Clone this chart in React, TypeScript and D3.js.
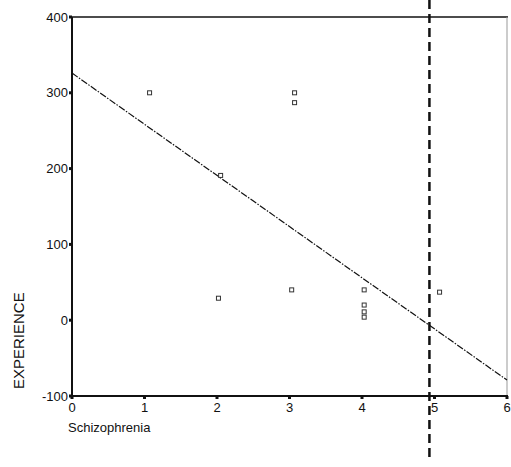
import { scaleLinear, line } from "d3";

const width = 511;
const height = 467;

// scatter points
const xValues = [1.07, 3.07, 3.07, 2.05, 2.02, 3.03, 4.03, 4.03, 4.03, 4.03, 5.07];
const yValues = [300, 300, 287, 191, 29, 40, 40, 20, 11, 4, 37];

const xTicks = [0, 1, 2, 3, 4, 5, 6];
const yTicks = [-100, 0, 100, 200, 300, 400];

// fitted line: intercept and slope
const fitX = [0, 6];
const fitIntercept = 326;
const fitSlope = -67.5;
const cutoffX = 4.93;

export default function App() {
  const xScale = scaleLinear().domain([0, 6]).range([72, 507]);
  const yScale = scaleLinear().domain([-100, 400]).range([396, 17]);

  const fitLine = line<number>()
    .x((d) => xScale(d))
    .y((d) => yScale(fitIntercept + fitSlope * d));

  const left = xScale(0);
  const right = xScale(6);
  const top = yScale(400);
  const bottom = yScale(-100);

  return (
    <svg
      width={width}
      height={height}
      style={{ position: "absolute", left: 0, top: 0, background: "#fff" }}
      fontFamily="Liberation Sans, Arial, sans-serif"
    >
      <rect width={width} height={height} fill="#fff" />

      {/* frame */}
      <line x1={left} x2={right + 1} y1={top} y2={top} stroke="#111" strokeWidth={1.5} />
      <line x1={right} x2={right} y1={top} y2={bottom} stroke="#999" strokeWidth={1} />
      <line x1={left} x2={left} y1={top} y2={bottom + 1} stroke="#111" strokeWidth={2} />
      <line x1={left} x2={right + 1} y1={bottom} y2={bottom} stroke="#111" strokeWidth={2} />

      {/* y axis */}
      {yTicks.map((t) => (
        <g key={t}>
          <rect x={left - 3} y={yScale(t) - 1.5} width={3} height={3} fill="#111" />
          <text
            x={left - 4}
            y={yScale(t)}
            textAnchor="end"
            dominantBaseline="central"
            fontSize={13}
            fill="#111"
          >
            {t}
          </text>
        </g>
      ))}

      {/* x axis */}
      {xTicks.map((t) => (
        <g key={t}>
          <rect x={xScale(t) - 1.5} y={bottom} width={3} height={3} fill="#111" />
          <text x={xScale(t)} y={bottom + 16} textAnchor="middle" fontSize={13} fill="#111">
            {t}
          </text>
        </g>
      ))}

      {/* fitted line */}
      <path
        d={fitLine(fitX) ?? ""}
        fill="none"
        stroke="#111"
        strokeWidth={1.2}
        strokeDasharray="7 1.5 1.5 1.5"
      />

      {/* points */}
      {xValues.map((x, i) => (
        <rect
          key={i}
          x={xScale(x) - 2}
          y={yScale(yValues[i]) - 2}
          width={4}
          height={4}
          fill="none"
          stroke="#333"
          strokeWidth={1}
        />
      ))}

      {/* cutoff */}
      <line
        x1={xScale(cutoffX)}
        x2={xScale(cutoffX)}
        y1={0}
        y2={460}
        stroke="#111"
        strokeWidth={2.5}
        strokeDasharray="9 5"
      />

      <text
        transform={`translate(24, ${yScale(-27)}) rotate(-90)`}
        textAnchor="middle"
        fontSize={15}
        fill="#111"
      >
        EXPERIENCE
      </text>
      <text x={68} y={432} fontSize={13} fill="#111">
        Schizophrenia
      </text>
    </svg>
  );
}
